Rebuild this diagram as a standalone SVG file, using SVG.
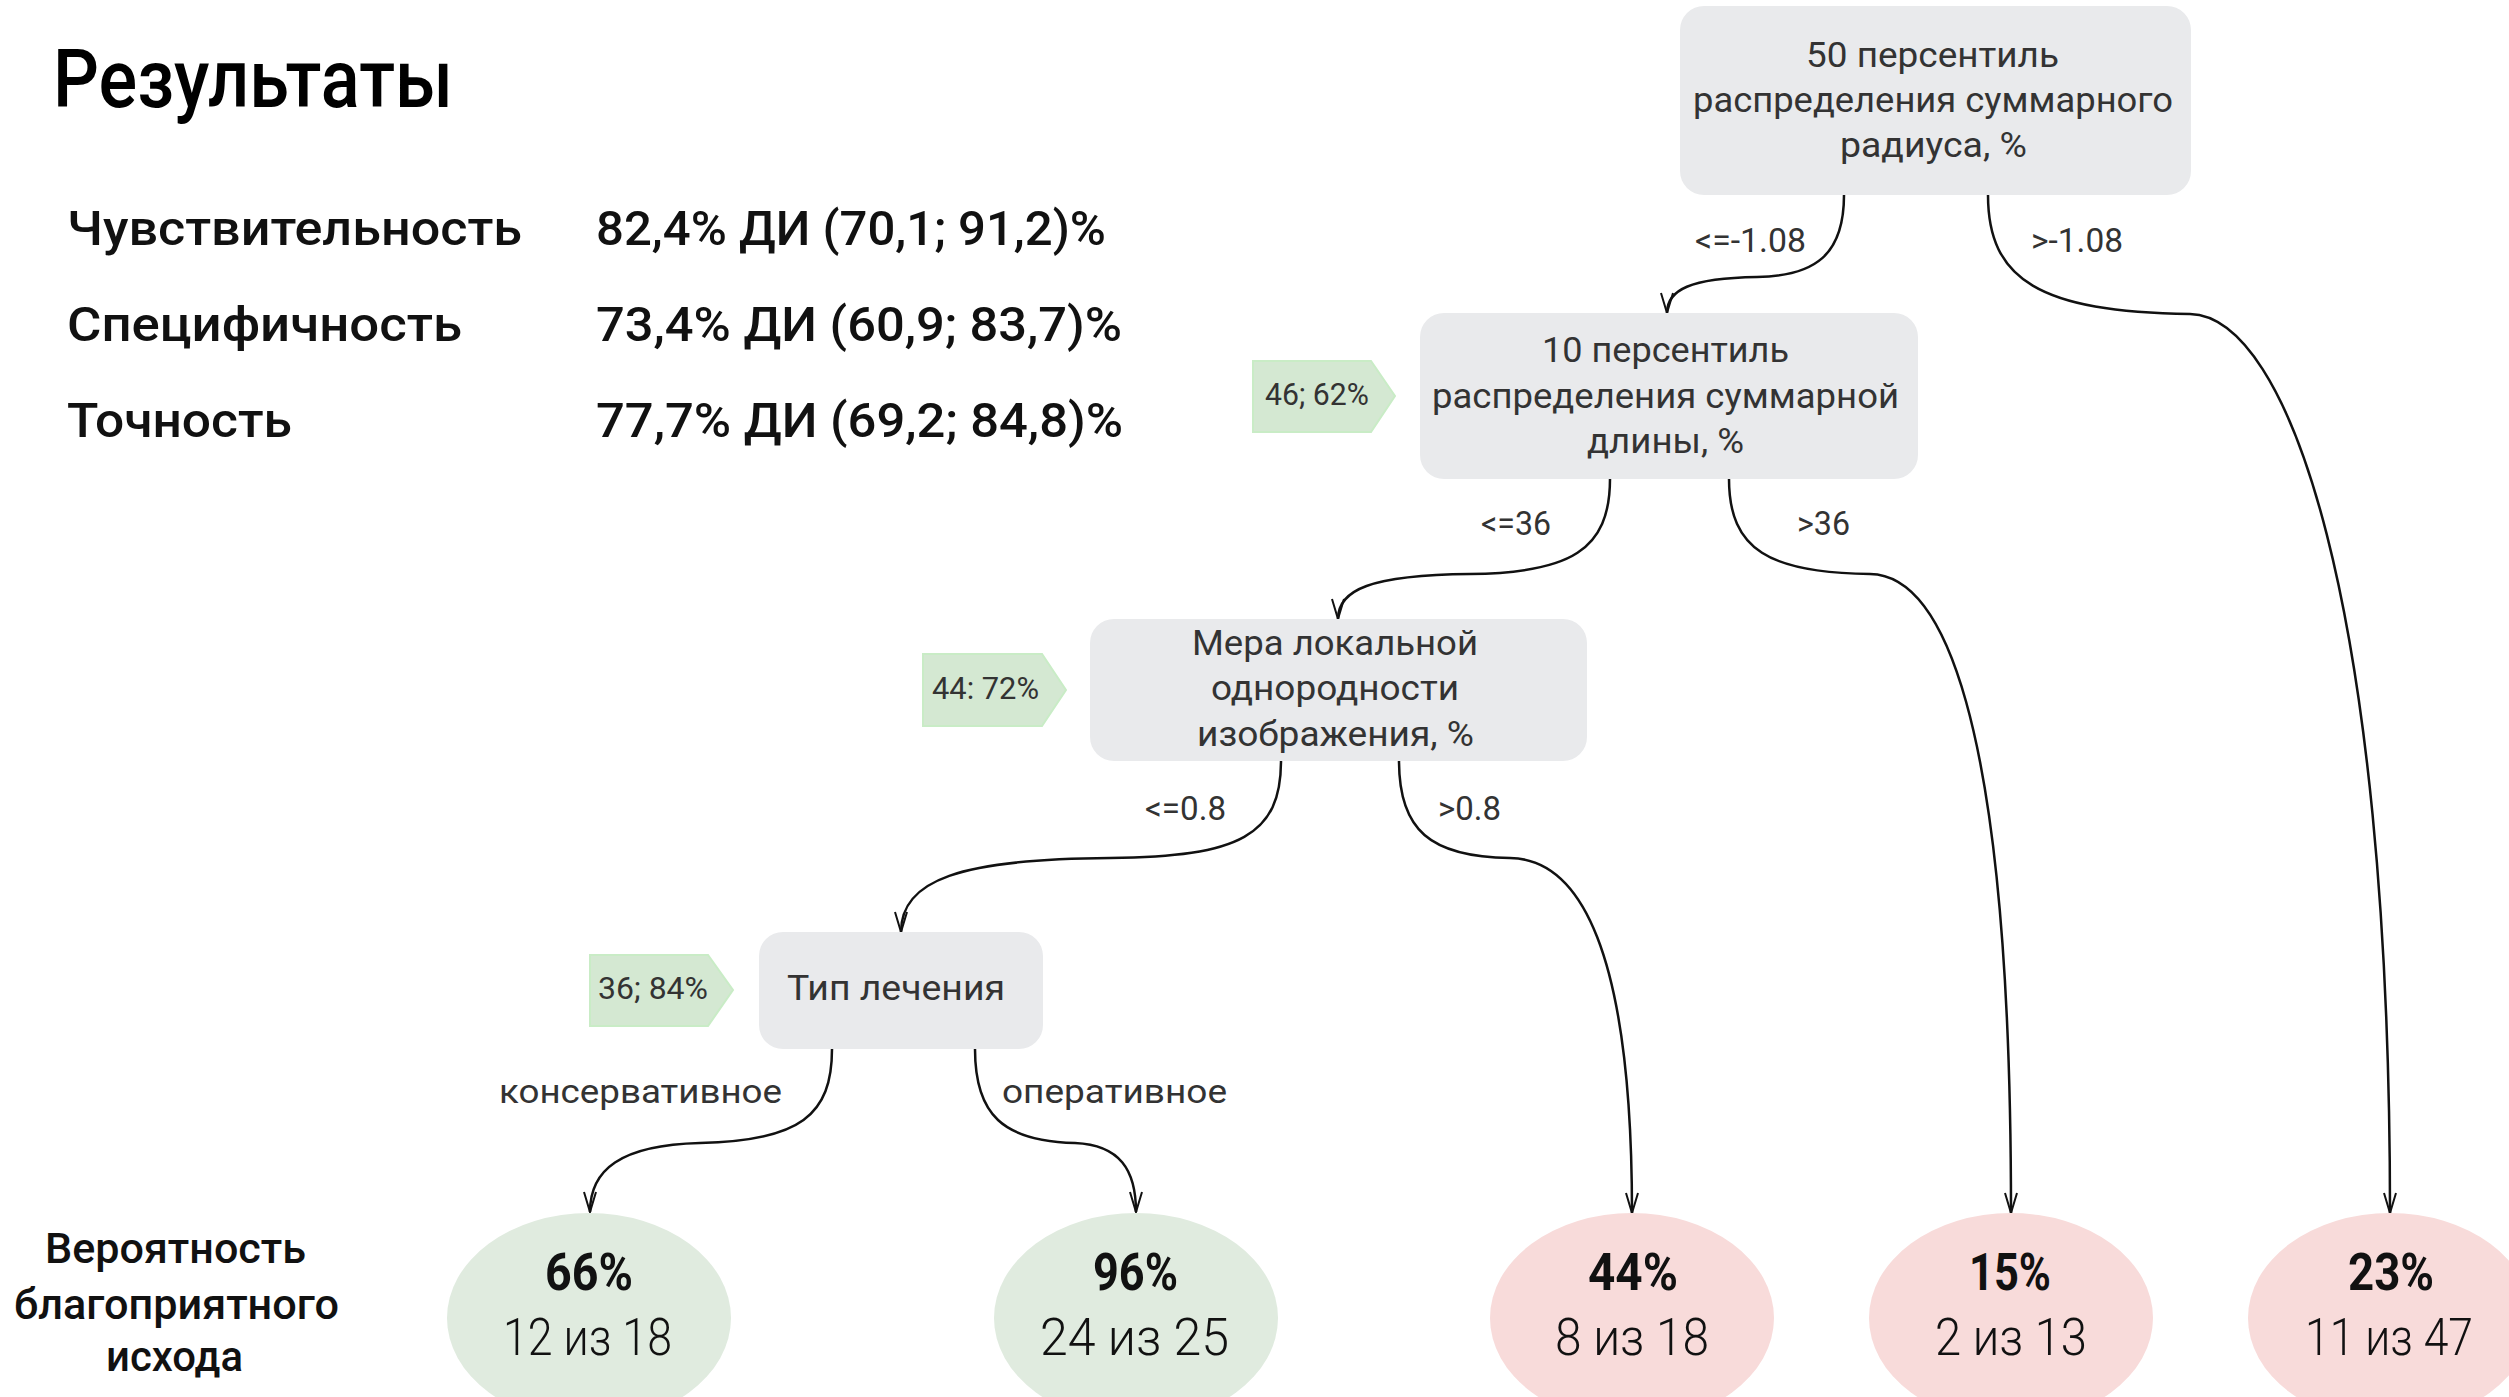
<svg xmlns="http://www.w3.org/2000/svg" width="2509" height="1397" viewBox="0 0 2509 1397">
<style>
text{font-family:Roboto,"DejaVu Sans",sans-serif;}
.title{font-size:82px;font-weight:500;fill:#000;}
.metric{font-size:48px;font-weight:500;fill:#111;}
.node rect{fill:#e9eaec;}
.nt{font-size:35px;fill:#333;}
.badge polygon{fill:#d4e8d2;stroke:#c9ecc6;stroke-width:2;}
.bt{font-size:32px;fill:#333;}
.el{font-size:34px;fill:#333;}
.leafg ellipse{fill:#e0ebdf;}
.leafr ellipse{fill:#f8dbda;}
.lp{font-size:52px;font-weight:700;fill:#111;}
.ln{font-size:52px;font-weight:300;fill:#111;}
.side{font-size:43px;font-weight:500;fill:#111;}
.conn path{fill:none;stroke:#111;stroke-width:2.5;}
</style>
<defs>
<marker id="arr" viewBox="0 0 22 14" refX="21" refY="7" markerWidth="22" markerHeight="14" markerUnits="userSpaceOnUse" orient="auto">
<path d="M1,1 L21,7 L1,13" fill="none" stroke="#111" stroke-width="2"/>
</marker>
</defs>
<rect width="2509" height="1397" fill="#fff"/>

<g id="header">
<text class="title" x="53" y="107" textLength="400" lengthAdjust="spacingAndGlyphs">Результаты</text>
<text class="metric" x="67" y="245" textLength="455" lengthAdjust="spacingAndGlyphs">Чувствительность</text>
<text class="metric" x="67" y="341" textLength="395" lengthAdjust="spacingAndGlyphs">Специфичность</text>
<text class="metric" x="67" y="437" textLength="225" lengthAdjust="spacingAndGlyphs">Точность</text>
<text class="metric" x="596" y="245" textLength="510" lengthAdjust="spacingAndGlyphs">82,4% ДИ (70,1; 91,2)%</text>
<text class="metric" x="596" y="341" textLength="526" lengthAdjust="spacingAndGlyphs">73,4% ДИ (60,9; 83,7)%</text>
<text class="metric" x="596" y="437" textLength="527" lengthAdjust="spacingAndGlyphs">77,7% ДИ (69,2; 84,8)%</text>
</g>

<g id="connectors" class="conn">
<path d="M1844,195 C1844,255 1815,276 1757,277 C1690,278 1667,290 1667,313" marker-end="url(#arr)"/>
<path d="M1988,195 C1988,280 2040,312 2190,314 C2288,316 2390,600 2390,1213" marker-end="url(#arr)"/>
<path d="M1610,479 C1610,550 1570,573 1470,574 C1370,575 1338,590 1338,619" marker-end="url(#arr)"/>
<path d="M1729,479 C1729,550 1770,573 1870,574 C1938,575 2011,700 2011,1213" marker-end="url(#arr)"/>
<path d="M1281,761 C1281,835 1240,857 1110,858 C960,859 901,880 901,932" marker-end="url(#arr)"/>
<path d="M1399,761 C1399,830 1430,857 1510,858 C1580,859 1632,950 1632,1213" marker-end="url(#arr)"/>
<path d="M832,1049 C832,1115 800,1141 700,1143 C620,1145 590,1170 590,1212" marker-end="url(#arr)"/>
<path d="M975,1049 C975,1115 1003,1141 1075,1143 C1120,1145 1136,1170 1136,1212" marker-end="url(#arr)"/>
</g>

<g id="edge-labels">
<text class="el" x="1695" y="252" textLength="111" lengthAdjust="spacingAndGlyphs">&lt;=-1.08</text>
<text class="el" x="2031" y="252" textLength="92" lengthAdjust="spacingAndGlyphs">&gt;-1.08</text>
<text class="el" x="1481" y="535" textLength="70" lengthAdjust="spacingAndGlyphs">&lt;=36</text>
<text class="el" x="1797" y="535" textLength="53" lengthAdjust="spacingAndGlyphs">&gt;36</text>
<text class="el" x="1145" y="820" textLength="81" lengthAdjust="spacingAndGlyphs">&lt;=0.8</text>
<text class="el" x="1438" y="820" textLength="63" lengthAdjust="spacingAndGlyphs">&gt;0.8</text>
<text class="el" x="499" y="1103" textLength="283" lengthAdjust="spacingAndGlyphs">консервативное</text>
<text class="el" x="1002" y="1103" textLength="225" lengthAdjust="spacingAndGlyphs">оперативное</text>
</g>

<g id="node-root" class="node">
<rect x="1680" y="6" width="511" height="189" rx="24"/>
<text class="nt" x="1806" y="67" textLength="253" lengthAdjust="spacingAndGlyphs">50 персентиль</text>
<text class="nt" x="1693" y="112" textLength="480" lengthAdjust="spacingAndGlyphs">распределения суммарного</text>
<text class="nt" x="1840" y="157" textLength="187" lengthAdjust="spacingAndGlyphs">радиуса, %</text>
</g>

<g id="node-length" class="node">
<rect x="1420" y="313" width="498" height="166" rx="24"/>
<text class="nt" x="1542" y="362" textLength="247" lengthAdjust="spacingAndGlyphs">10 персентиль</text>
<text class="nt" x="1432" y="408" textLength="467" lengthAdjust="spacingAndGlyphs">распределения суммарной</text>
<text class="nt" x="1587" y="453" textLength="157" lengthAdjust="spacingAndGlyphs">длины, %</text>
</g>

<g id="node-homogeneity" class="node">
<rect x="1090" y="619" width="497" height="142" rx="24"/>
<text class="nt" x="1192" y="655" textLength="286" lengthAdjust="spacingAndGlyphs">Мера локальной</text>
<text class="nt" x="1211" y="700" textLength="248" lengthAdjust="spacingAndGlyphs">однородности</text>
<text class="nt" x="1197" y="746" textLength="277" lengthAdjust="spacingAndGlyphs">изображения, %</text>
</g>

<g id="node-treatment" class="node">
<rect x="759" y="932" width="284" height="117" rx="24"/>
<text class="nt" x="787" y="1000" textLength="218" lengthAdjust="spacingAndGlyphs">Тип лечения</text>
</g>

<g id="badge-46" class="badge">
<polygon points="1253,361 1371,361 1395,396 1371,432 1253,432"/>
<text class="bt" x="1265" y="405" textLength="104" lengthAdjust="spacingAndGlyphs">46; 62%</text>
</g>
<g id="badge-44" class="badge">
<polygon points="923,654 1042,654 1066,690 1042,726 923,726"/>
<text class="bt" x="932" y="699" textLength="107" lengthAdjust="spacingAndGlyphs">44: 72%</text>
</g>
<g id="badge-36" class="badge">
<polygon points="590,955 708,955 733,990 708,1026 590,1026"/>
<text class="bt" x="598" y="999" textLength="110" lengthAdjust="spacingAndGlyphs">36; 84%</text>
</g>

<g id="side-label">
<text class="side" x="45" y="1263" textLength="261" lengthAdjust="spacingAndGlyphs">Вероятность</text>
<text class="side" x="14" y="1319" textLength="325" lengthAdjust="spacingAndGlyphs">благоприятного</text>
<text class="side" x="106" y="1371" textLength="137" lengthAdjust="spacingAndGlyphs">исхода</text>
</g>

<g id="leaf-66" class="leafg">
<ellipse cx="589" cy="1318" rx="142" ry="105"/>
<text class="lp" x="545" y="1290" textLength="88" lengthAdjust="spacingAndGlyphs">66%</text>
<text class="ln" x="503" y="1355" textLength="169" lengthAdjust="spacingAndGlyphs">12 из 18</text>
</g>
<g id="leaf-96" class="leafg">
<ellipse cx="1136" cy="1318" rx="142" ry="105"/>
<text class="lp" x="1093" y="1290" textLength="85" lengthAdjust="spacingAndGlyphs">96%</text>
<text class="ln" x="1040" y="1355" textLength="189" lengthAdjust="spacingAndGlyphs">24 из 25</text>
</g>
<g id="leaf-44" class="leafr">
<ellipse cx="1632" cy="1318" rx="142" ry="105"/>
<text class="lp" x="1588" y="1290" textLength="90" lengthAdjust="spacingAndGlyphs">44%</text>
<text class="ln" x="1555" y="1355" textLength="154" lengthAdjust="spacingAndGlyphs">8 из 18</text>
</g>
<g id="leaf-15" class="leafr">
<ellipse cx="2011" cy="1318" rx="142" ry="105"/>
<text class="lp" x="1969" y="1290" textLength="82" lengthAdjust="spacingAndGlyphs">15%</text>
<text class="ln" x="1935" y="1355" textLength="152" lengthAdjust="spacingAndGlyphs">2 из 13</text>
</g>
<g id="leaf-23" class="leafr">
<ellipse cx="2390" cy="1318" rx="142" ry="105"/>
<text class="lp" x="2348" y="1290" textLength="86" lengthAdjust="spacingAndGlyphs">23%</text>
<text class="ln" x="2305" y="1355" textLength="168" lengthAdjust="spacingAndGlyphs">11 из 47</text>
</g>
</svg>
